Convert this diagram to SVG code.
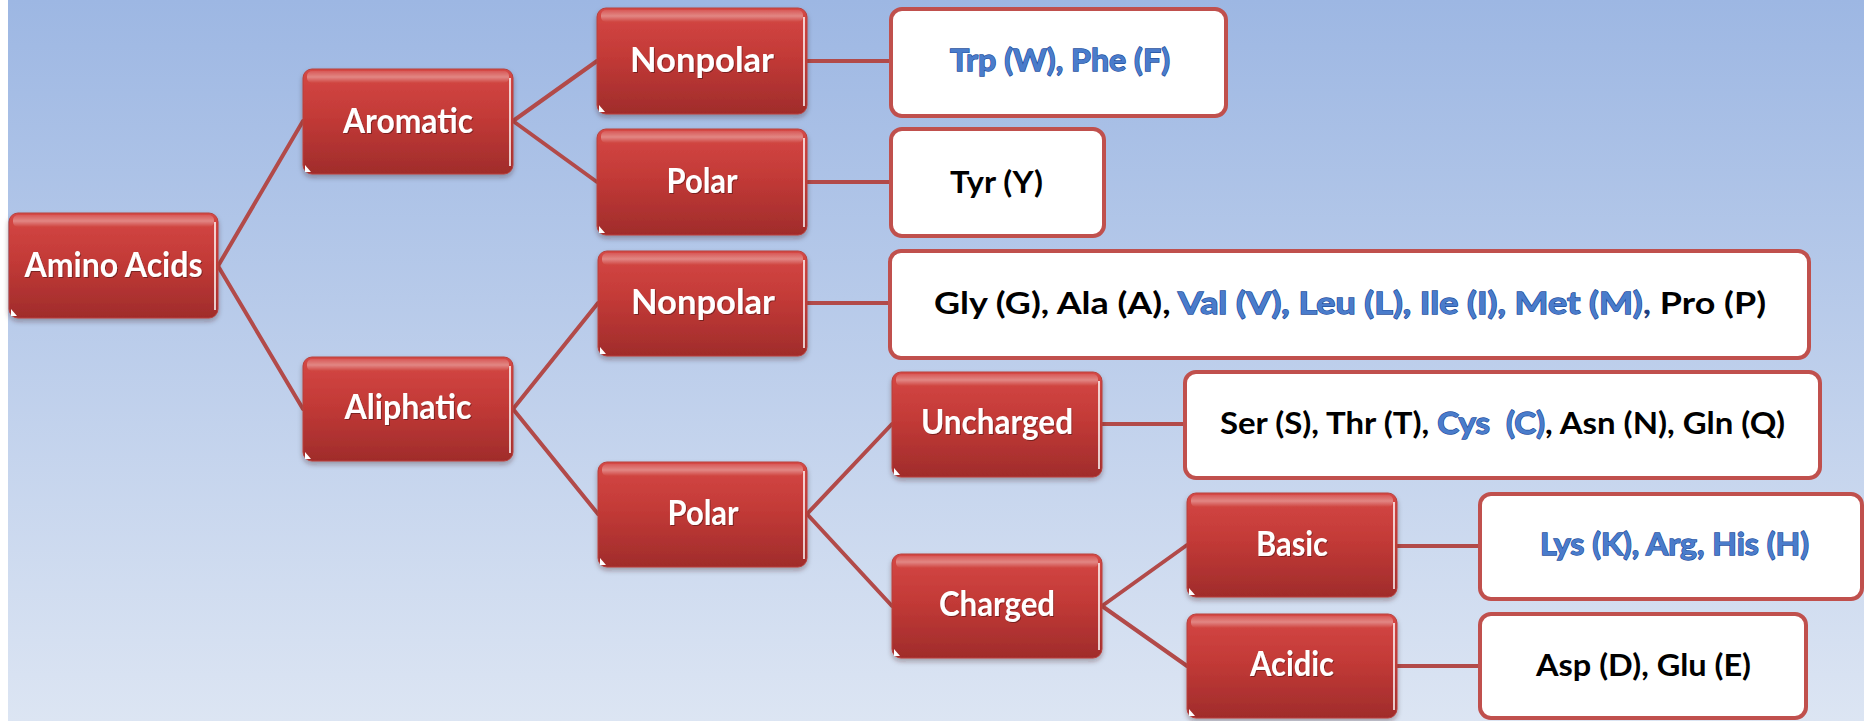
<svg xmlns="http://www.w3.org/2000/svg" width="1864" height="721" viewBox="0 0 1864 721">
<defs>
<linearGradient id="bg" x1="0" y1="0" x2="0" y2="1">
<stop offset="0" stop-color="#9db7e3"/>
<stop offset="1" stop-color="#dce5f3"/>
</linearGradient>
<linearGradient id="red" x1="0" y1="0" x2="0" y2="1">
<stop offset="0" stop-color="#d54845"/>
<stop offset="0.45" stop-color="#c33a37"/>
<stop offset="1" stop-color="#a02c2b"/>
</linearGradient>
<linearGradient id="gloss" x1="0" y1="0" x2="0" y2="1">
<stop offset="0" stop-color="#ffffff" stop-opacity="0.1"/>
<stop offset="0.5" stop-color="#ffffff" stop-opacity="0.35"/>
<stop offset="1" stop-color="#ffffff" stop-opacity="0"/>
</linearGradient>
<filter id="sh" x="-10%" y="-10%" width="120%" height="130%">
<feDropShadow dx="0" dy="3" stdDeviation="2.5" flood-color="#3a2020" flood-opacity="0.35"/>
</filter>
<filter id="tsh" x="-5%" y="-20%" width="110%" height="140%">
<feDropShadow dx="1" dy="1" stdDeviation="0.6" flood-color="#000000" flood-opacity="0.35"/>
</filter>
</defs>
<style>
.rb{fill:url(#red);stroke:#b8403c;stroke-width:1;filter:url(#sh)}
.gl{fill:url(#gloss)}
.edge{stroke:#ffffff;stroke-opacity:0.75;stroke-width:2;fill:none}
.tri{fill:#ffffff}
.wb{fill:#ffffff;stroke:#c0504d;stroke-width:4}
.wt{font-family:Lato,"Liberation Sans",sans-serif;font-weight:bold;font-size:34px;fill:#ffffff;text-anchor:middle;filter:url(#tsh)}
.bt{font-family:Lato,"Liberation Sans",sans-serif;font-weight:bold;font-size:31px;fill:#000000}
.blue{fill:#4a7ccb;stroke:#1f4f9e;stroke-width:1.3;paint-order:stroke}
.conn{stroke:#b24a49;stroke-width:4;fill:none;stroke-linecap:round}
</style>
<rect x="0" y="0" width="1864" height="721" fill="#ffffff"/>
<rect x="8" y="0" width="1856" height="721" fill="url(#bg)"/>

<g id="connectors">
<line class="conn" x1="218" y1="266" x2="303" y2="121"/>
<line class="conn" x1="218" y1="266" x2="303" y2="409"/>
<line class="conn" x1="513" y1="121" x2="597" y2="61"/>
<line class="conn" x1="513" y1="121" x2="597" y2="182"/>
<line class="conn" x1="513" y1="409" x2="598" y2="303"/>
<line class="conn" x1="513" y1="409" x2="598" y2="514"/>
<line class="conn" x1="807" y1="61" x2="891" y2="61"/>
<line class="conn" x1="807" y1="182" x2="891" y2="182"/>
<line class="conn" x1="807" y1="303" x2="890" y2="303"/>
<line class="conn" x1="807" y1="514" x2="892" y2="424"/>
<line class="conn" x1="807" y1="514" x2="892" y2="606"/>
<line class="conn" x1="1102" y1="424" x2="1185" y2="424"/>
<line class="conn" x1="1102" y1="606" x2="1187" y2="545"/>
<line class="conn" x1="1102" y1="606" x2="1187" y2="666"/>
<line class="conn" x1="1397" y1="546" x2="1480" y2="546"/>
<line class="conn" x1="1397" y1="666" x2="1480" y2="666"/>
</g>

<g id="n-amino">
<rect class="rb" x="9" y="213" width="209" height="105" rx="9"/>
<rect class="gl" x="13" y="215" width="201" height="12" rx="5"/>
<line class="edge" x1="215" y1="222" x2="215" y2="310"/>
<path class="tri" d="M11 316 V309 L17 316 Z"/>
<text class="wt" x="113.5" y="277" textLength="178" lengthAdjust="spacingAndGlyphs">Amino Acids</text>
</g>

<g id="n-aromatic">
<rect class="rb" x="303" y="69" width="210" height="105" rx="9"/>
<rect class="gl" x="307" y="71" width="202" height="12" rx="5"/>
<line class="edge" x1="510" y1="78" x2="510" y2="166"/>
<path class="tri" d="M305 172 V165 L311 172 Z"/>
<text class="wt" x="408" y="133" textLength="130" lengthAdjust="spacingAndGlyphs">Aromatic</text>
</g>

<g id="n-aliphatic">
<rect class="rb" x="303" y="357" width="210" height="104" rx="9"/>
<rect class="gl" x="307" y="359" width="202" height="12" rx="5"/>
<line class="edge" x1="510" y1="366" x2="510" y2="453"/>
<path class="tri" d="M305 459 V452 L311 459 Z"/>
<text class="wt" x="408" y="419" textLength="127" lengthAdjust="spacingAndGlyphs">Aliphatic</text>
</g>

<g id="n-nonpolar1">
<rect class="rb" x="597" y="8" width="210" height="106" rx="9"/>
<rect class="gl" x="601" y="10" width="202" height="12" rx="5"/>
<line class="edge" x1="804" y1="17" x2="804" y2="106"/>
<path class="tri" d="M599 112 V105 L605 112 Z"/>
<text class="wt" x="702" y="72" textLength="144" lengthAdjust="spacingAndGlyphs">Nonpolar</text>
</g>

<g id="n-polar1">
<rect class="rb" x="597" y="129" width="210" height="106" rx="9"/>
<rect class="gl" x="601" y="131" width="202" height="12" rx="5"/>
<line class="edge" x1="804" y1="138" x2="804" y2="227"/>
<path class="tri" d="M599 233 V226 L605 233 Z"/>
<text class="wt" x="702" y="193" textLength="71" lengthAdjust="spacingAndGlyphs">Polar</text>
</g>

<g id="n-nonpolar2">
<rect class="rb" x="598" y="251" width="209" height="105" rx="9"/>
<rect class="gl" x="602" y="253" width="201" height="12" rx="5"/>
<line class="edge" x1="804" y1="260" x2="804" y2="348"/>
<path class="tri" d="M600 354 V347 L606 354 Z"/>
<text class="wt" x="703" y="314" textLength="144" lengthAdjust="spacingAndGlyphs">Nonpolar</text>
</g>

<g id="n-polar2">
<rect class="rb" x="598" y="462" width="209" height="105" rx="9"/>
<rect class="gl" x="602" y="464" width="201" height="12" rx="5"/>
<line class="edge" x1="804" y1="471" x2="804" y2="559"/>
<path class="tri" d="M600 565 V558 L606 565 Z"/>
<text class="wt" x="703" y="525" textLength="71" lengthAdjust="spacingAndGlyphs">Polar</text>
</g>

<g id="n-uncharged">
<rect class="rb" x="892" y="372" width="210" height="105" rx="9"/>
<rect class="gl" x="896" y="374" width="202" height="12" rx="5"/>
<line class="edge" x1="1099" y1="381" x2="1099" y2="469"/>
<path class="tri" d="M894 475 V468 L900 475 Z"/>
<text class="wt" x="997" y="434" textLength="152" lengthAdjust="spacingAndGlyphs">Uncharged</text>
</g>

<g id="n-charged">
<rect class="rb" x="892" y="554" width="210" height="104" rx="9"/>
<rect class="gl" x="896" y="556" width="202" height="12" rx="5"/>
<line class="edge" x1="1099" y1="563" x2="1099" y2="650"/>
<path class="tri" d="M894 656 V649 L900 656 Z"/>
<text class="wt" x="997" y="616" textLength="116" lengthAdjust="spacingAndGlyphs">Charged</text>
</g>

<g id="n-basic">
<rect class="rb" x="1187" y="493" width="210" height="104" rx="9"/>
<rect class="gl" x="1191" y="495" width="202" height="12" rx="5"/>
<line class="edge" x1="1394" y1="502" x2="1394" y2="589"/>
<path class="tri" d="M1189 595 V588 L1195 595 Z"/>
<text class="wt" x="1292" y="556" textLength="72" lengthAdjust="spacingAndGlyphs">Basic</text>
</g>

<g id="n-acidic">
<rect class="rb" x="1187" y="614" width="210" height="104" rx="9"/>
<rect class="gl" x="1191" y="616" width="202" height="12" rx="5"/>
<line class="edge" x1="1394" y1="623" x2="1394" y2="710"/>
<path class="tri" d="M1189 716 V709 L1195 716 Z"/>
<text class="wt" x="1292" y="676" textLength="84" lengthAdjust="spacingAndGlyphs">Acidic</text>
</g>

<g id="n-trp">
<rect class="wb" x="891" y="9" width="335" height="107" rx="11"/>
<text class="bt" x="950" y="71" textLength="220" lengthAdjust="spacingAndGlyphs"><tspan class="blue">Trp (W), Phe (F)</tspan></text>
</g>

<g id="n-tyr">
<rect class="wb" x="891" y="129" width="213" height="107" rx="11"/>
<text class="bt" x="950" y="193" textLength="93" lengthAdjust="spacingAndGlyphs">Tyr (Y)</text>
</g>

<g id="n-gly">
<rect class="wb" x="890" y="251" width="919" height="107" rx="11"/>
<text class="bt" x="934" y="314" textLength="832" lengthAdjust="spacingAndGlyphs">Gly (G), Ala (A), <tspan class="blue">Val (V), Leu (L), Ile (I), Met (M)</tspan><tspan fill="#1f3f80">,</tspan> Pro (P)</text>
</g>

<g id="n-ser">
<rect class="wb" x="1185" y="372" width="635" height="106" rx="11"/>
<text class="bt" xml:space="preserve" x="1220" y="434" textLength="565" lengthAdjust="spacingAndGlyphs">Ser (S), Thr (T), <tspan class="blue">Cys  (C)</tspan>, Asn (N), Gln (Q)</text>
</g>

<g id="n-lys">
<rect class="wb" x="1480" y="494" width="382" height="105" rx="11"/>
<text class="bt" x="1540" y="555" textLength="269" lengthAdjust="spacingAndGlyphs"><tspan class="blue">Lys (K), Arg, His (H)</tspan></text>
</g>

<g id="n-asp">
<rect class="wb" x="1480" y="614" width="326" height="104" rx="11"/>
<text class="bt" x="1536" y="676" textLength="215" lengthAdjust="spacingAndGlyphs">Asp (D), Glu (E)</text>
</g>
</svg>
